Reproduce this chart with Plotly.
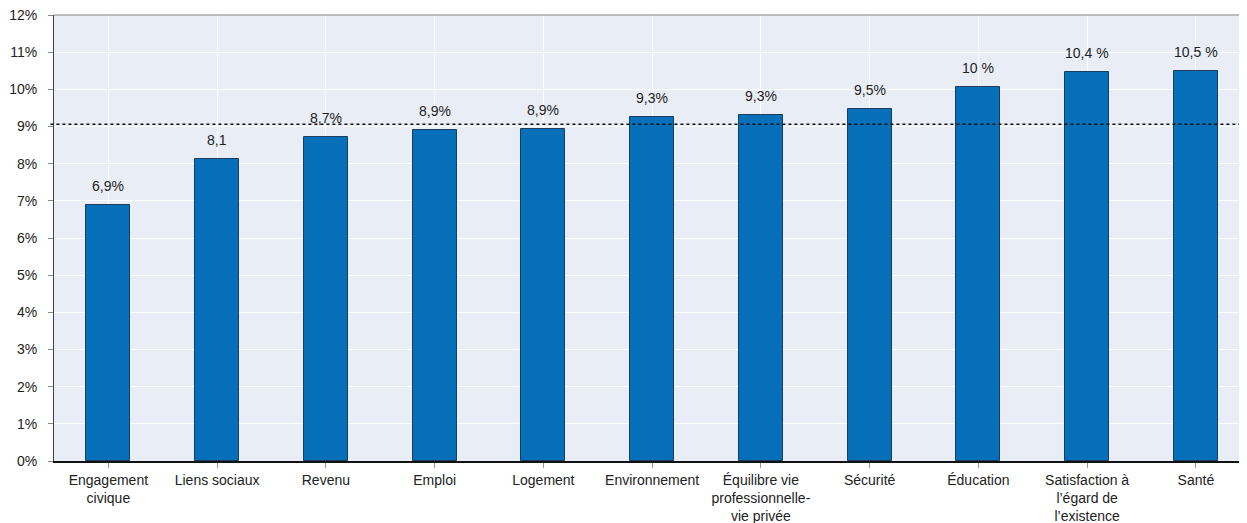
import plotly.graph_objects as go

categories = [
    "Engagement<br>civique", "Liens sociaux", "Revenu", "Emploi", "Logement",
    "Environnement", "Équilibre vie<br>professionnelle-<br>vie privée", "Sécurité",
    "Éducation", "Satisfaction à<br>l’égard de<br>l’existence", "Santé",
]
values = [6.89, 8.13, 8.72, 8.90, 8.93, 9.26, 9.30, 9.46, 10.05, 10.46, 10.48]
value_labels = ["6,9%", "8,1", "8,7%", "8,9%", "8,9%", "9,3%", "9,3%", "9,5%", "10 %", "10,4 %", "10,5 %"]
average = 9.06
y_ticks = list(range(0, 13))
y_tick_labels = [f"{v}%" for v in y_ticks]

FONT = "Liberation Sans Narrow, Arial Narrow, Liberation Sans, Arial, sans-serif"
FS = 14

fig = go.Figure()
fig.add_trace(go.Bar(
    x=list(range(len(categories))), y=values,
    marker=dict(color="#0570b9", line=dict(color="#1d3c5e", width=1)),
    width=0.405, hoverinfo="skip",
))

for i, (v, t) in enumerate(zip(values, value_labels)):
    fig.add_annotation(x=i, y=v, text=t, showarrow=False, yanchor="bottom",
                       yshift=9, font=dict(family=FONT, size=FS, color="#222"))

fig.add_shape(type="line", xref="paper", yref="y", x0=-0.003, x1=1, y0=average, y1=average,
              line=dict(color="#111", width=1.5, dash="dot"), layer="above")
fig.add_shape(type="line", xref="paper", yref="paper", x0=0, x1=1, y0=1, y1=1,
              line=dict(color="#aaaaaa", width=1.5), layer="above")

# page body has an 8px default margin; sizes compensate for it
fig.update_layout(
    width=1239, height=515,
    margin=dict(l=46, r=0, t=7, b=62),
    paper_bgcolor="white", plot_bgcolor="#e9edf6",
    showlegend=False, bargap=0,
    font=dict(family=FONT, size=FS, color="#222"),
)
fig.update_xaxes(
    tickmode="array", tickvals=list(range(len(categories))), ticktext=categories,
    range=[-0.5, 10.47], tickson="boundaries",
    showgrid=True, gridcolor="white", gridwidth=1,
    ticks="outside", ticklen=5, tickcolor="#999",
    showline=True, linecolor="#111", linewidth=1.5,
    tickfont=dict(family=FONT, size=FS, color="#222"),
    ticklabeloverflow="allow",
    automargin=False, fixedrange=True,
)
fig.update_yaxes(
    range=[0, 12], tickmode="array", tickvals=y_ticks, ticktext=y_tick_labels,
    showgrid=True, gridcolor="white", gridwidth=1,
    ticks="outside", ticklen=5, tickcolor="#888",
    showline=True, linecolor="#444", linewidth=1,
    zeroline=False, ticklabelstandoff=8,
    tickfont=dict(family=FONT, size=FS, color="#222"),
    ticklabeloverflow="allow",
    automargin=False, fixedrange=True,
)

fig.write_html("out.html")
